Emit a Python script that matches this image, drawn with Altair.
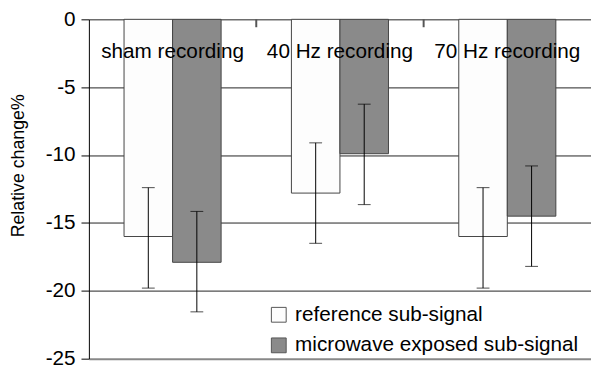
import altair as alt
import pandas as pd

categories = ["sham recording", "40 Hz recording", "70 Hz recording"]
series = ["reference sub-signal", "microwave exposed sub-signal"]
reference_mean = [-16.0, -12.8, -16.0]
reference_low = [-19.8, -16.5, -19.8]
reference_high = [-12.4, -9.1, -12.4]
microwave_mean = [-17.9, -9.9, -14.5]
microwave_low = [-21.55, -13.65, -18.2]
microwave_high = [-14.15, -6.25, -10.8]
y_ticks = [0, -5, -10, -15, -20, -25]
colors = ["#fdfdfd", "#8a8a8a"]

FONT = "Liberation Sans"
WIDTH = 509
HEIGHT = 344
PAD_INNER = 0.42
PAD_OUTER = 0.21
STEP = WIDTH / (len(categories) - PAD_INNER + 2 * PAD_OUTER)

rows = []
for i, c in enumerate(categories):
    rows.append({"category": c, "series": series[0], "mean": reference_mean[i],
                 "low": reference_low[i], "high": reference_high[i]})
    rows.append({"category": c, "series": series[1], "mean": microwave_mean[i],
                 "low": microwave_low[i], "high": microwave_high[i]})
df = pd.DataFrame(rows)
cat_df = pd.DataFrame({"category": categories})
sep_df = pd.DataFrame({"category": categories[:-1]})

x_enc = alt.X("category:N", sort=categories,
              scale=alt.Scale(paddingInner=PAD_INNER, paddingOuter=PAD_OUTER),
              axis=None)
xo_enc = alt.XOffset("series:N", sort=series,
                     scale=alt.Scale(paddingInner=0, paddingOuter=0))
y_scale = alt.Scale(domain=[-25, 0], nice=False, zero=False)

bars = alt.Chart(df).mark_bar(stroke="#444", strokeWidth=1).encode(
    x=x_enc,
    xOffset=xo_enc,
    y=alt.Y("mean:Q", scale=y_scale, stack=None,
            axis=alt.Axis(values=y_ticks, title="Relative change%",
                          labelExpr="replace(datum.label, '\u2212', '-')",
                          titleFont=FONT, titleFontSize=18, titleFontWeight="normal",
                          titleColor="#000", titleX=-71, titleY=148,
                          titleBaseline="middle",
                          labelFont=FONT, labelFontSize=21, labelColor="#000",
                          labelPadding=6, tickSize=8, tickColor="#000",
                          domainColor="#000", grid=True,
                          gridColor={"condition": {"test": "datum.value == -25", "value": "#888"},
                                     "value": "#222"},
                          gridWidth={"condition": {"test": "datum.value == -25", "value": 2},
                                     "value": 1})),
    y2=alt.datum(0),
    color=alt.Color("series:N", sort=series,
                    scale=alt.Scale(domain=series, range=colors),
                    legend=alt.Legend(orient="none", legendX=182, legendY=289,
                                      title=None, symbolType="square", symbolSize=225,
                                      symbolStrokeColor="#555", symbolStrokeWidth=1,
                                      symbolOpacity=1, labelLimit=0,
                                      labelFont=FONT, labelFontSize=21, labelColor="#000",
                                      labelOffset=6, rowPadding=9, padding=0)),
)

separators = alt.Chart(sep_df).mark_rule(
    color="#555", strokeWidth=2, xOffset=PAD_INNER / 2 * STEP
).encode(
    x=alt.X("category:N", sort=categories, bandPosition=1),
    y=alt.value(0), y2=alt.value(8),
)

err = alt.Chart(df).mark_rule(color="#000", strokeWidth=1).encode(
    x=alt.X("category:N", sort=categories), xOffset=xo_enc,
    y=alt.Y("low:Q", scale=y_scale), y2="high:Q",
)
cap_low = alt.Chart(df).mark_tick(color="#000", orient="horizontal", size=13,
                                  thickness=1).encode(
    x=alt.X("category:N", sort=categories), xOffset=xo_enc,
    y=alt.Y("low:Q", scale=y_scale),
)
cap_high = alt.Chart(df).mark_tick(color="#000", orient="horizontal", size=13,
                                   thickness=1).encode(
    x=alt.X("category:N", sort=categories), xOffset=xo_enc,
    y=alt.Y("high:Q", scale=y_scale),
)
labels = alt.Chart(cat_df).mark_text(font=FONT, fontSize=21, color="#000",
                                     baseline="alphabetic", align="center").encode(
    x=alt.X("category:N", sort=categories),
    y=alt.value(39),
    text="category:N",
)

chart = alt.layer(bars, separators, err, cap_low, cap_high, labels).properties(
    width=WIDTH, height=HEIGHT,
    autosize=alt.AutoSizeParams(type="none"),
    padding={"left": 82, "top": 9, "right": 0, "bottom": 10},
    background="white",
).configure_view(stroke=None)

chart.save("out.html", embed_options={"renderer": "svg", "actions": False})
